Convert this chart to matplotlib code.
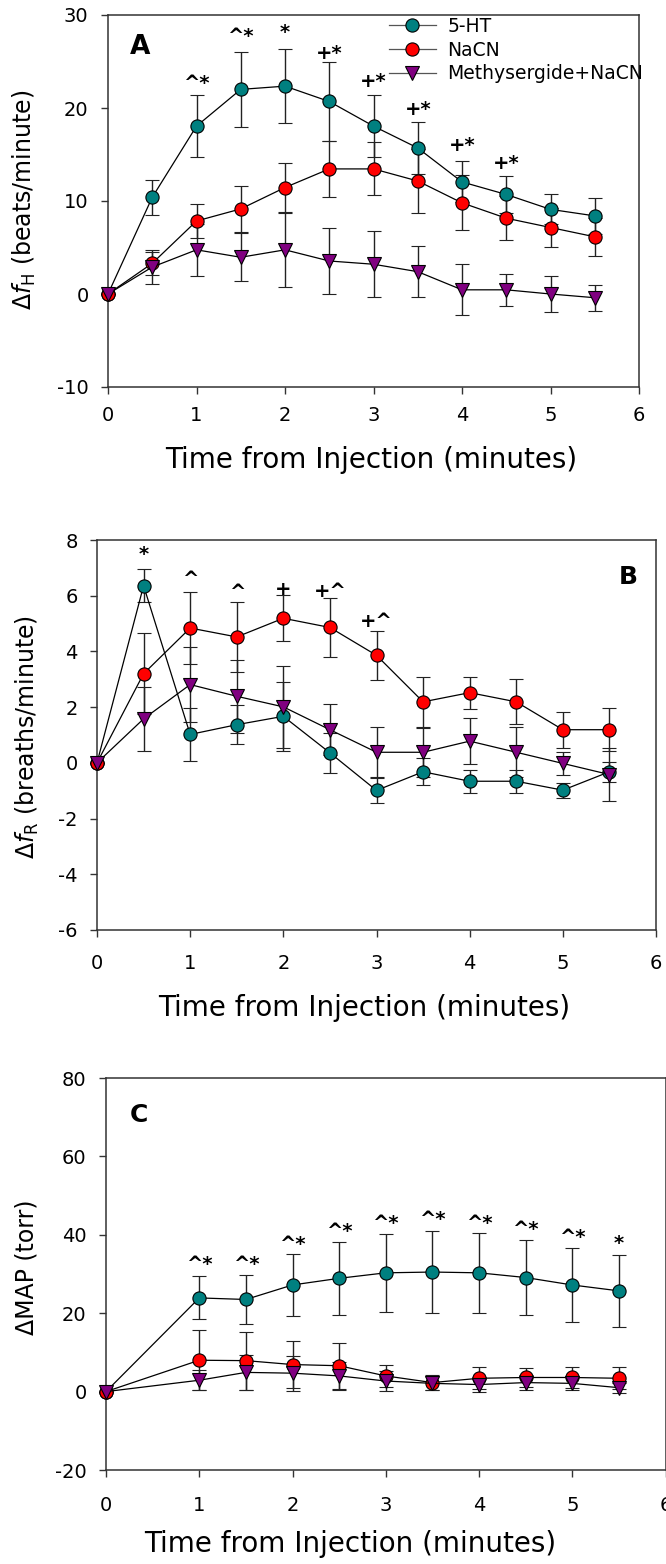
import numpy as np
import matplotlib
matplotlib.use('Agg')
from matplotlib import pyplot as plt

plt.rcParams['axes.unicode_minus'] = False
plt.rcParams['mathtext.fontset'] = 'dejavusans'

# time points (minutes)
tAB = [0, 0.5, 1, 1.5, 2, 2.5, 3, 3.5, 4, 4.5, 5, 5.5]
tC = [0, 1, 1.5, 2, 2.5, 3, 3.5, 4, 4.5, 5, 5.5]

labels = ['5-HT', 'NaCN', 'Methysergide+NaCN']

#Panel A - heart rate
hr_5ht = [0, 10.4, 18.05, 22.0, 22.35, 20.7, 18.05, 15.7, 12.05, 10.7, 9.1, 8.4]
hr_5ht_err = [0, 1.9, 3.3, 4.05, 4.0, 4.2, 3.35, 2.8, 2.2, 2.0, 1.6, 1.9]
hr_nacn = [0, 3.3, 7.85, 9.15, 11.45, 13.45, 13.45, 12.15, 9.8, 8.15, 7.15, 6.15]
hr_nacn_err = [0, 1.25, 1.85, 2.45, 2.6, 3.05, 2.85, 3.45, 2.95, 2.35, 2.05, 2.05]
hr_meth = [0, 2.9, 4.75, 3.95, 4.75, 3.55, 3.2, 2.4, 0.45, 0.45, 0, -0.4]
hr_meth_err = [0, 1.85, 2.8, 2.6, 4.0, 3.6, 3.55, 2.75, 2.75, 1.7, 1.9, 1.4]
hr_marks = ['', '', '^*', '^*', '*', '+*', '+*', '+*', '+*', '+*', '', '']
hr_mark_y = [0, 0, 22.65, 27.7, 28.1, 25.9, 22.8, 19.8, 16.0, 14.0, 0, 0]

#Panel B - respiratory rate
rr_5ht = [0, 6.36, 1.02, 1.37, 1.67, 0.36, -0.99, -0.32, -0.66, -0.66, -0.98, -0.32]
rr_5ht_err = [0, 0.6, 0.94, 0.69, 1.25, 0.72, 0.44, 0.48, 0.42, 0.42, 0.27, 0.35]
rr_nacn = [0, 3.2, 4.84, 4.52, 5.19, 4.86, 3.86, 2.19, 2.52, 2.19, 1.19, 1.19]
rr_nacn_err = [0, 1.45, 1.29, 1.27, 0.83, 1.05, 0.87, 0.9, 0.57, 0.81, 0.64, 0.77]
rr_meth = [0, 1.58, 2.81, 2.39, 2.01, 1.19, 0.38, 0.38, 0.78, 0.38, -0.02, -0.42]
rr_meth_err = [0, 1.14, 1.35, 1.31, 1.48, 0.92, 0.9, 0.87, 0.83, 0.9, 0.4, 0.95]
rr_marks = ['', '*', '^', '^', '+', '+^', '+^', '', '', '', '', '']
rr_mark_y = [0, 7.47, 6.6, 6.12, 6.21, 6.15, 5.08, 0, 0, 0, 0, 0]

#Panel C - mean arterial pressure
map_5ht = [0, 23.9, 23.5, 27.2, 28.9, 30.3, 30.5, 30.3, 29.1, 27.2, 25.7]
map_5ht_err = [0, 5.5, 6.2, 7.9, 9.3, 10.0, 10.5, 10.2, 9.5, 9.4, 9.2]
map_nacn = [0, 8.0, 7.9, 6.9, 6.6, 4.0, 2.3, 3.4, 3.6, 3.6, 3.4]
map_nacn_err = [0, 7.6, 7.4, 6.0, 5.9, 2.9, 1.9, 2.8, 2.5, 2.8, 2.8]
map_meth = [0, 2.9, 4.9, 4.7, 4.0, 2.7, 2.1, 1.8, 2.3, 2.1, 1.0]
map_meth_err = [0, 2.6, 4.5, 4.5, 3.5, 2.5, 1.8, 1.8, 2.0, 1.8, 1.3]
map_marks = ['', '^*', '^*', '^*', '^*', '^*', '^*', '^*', '^*', '^*', '*']
map_mark_y = [0, 32.4, 32.4, 37.5, 40.9, 43.0, 43.9, 43.0, 41.3, 39.4, 37.8]

colors = ['#008080', '#ff0000', '#800080']
markers = ['o', 'o', 'v']

W, H = 666, 1564
fig = plt.figure(figsize=(W/100, H/100), dpi=100)

def px_axes(left, right, top, bottom):
    return fig.add_axes([left/W, 1 - bottom/H, (right-left)/W, (bottom-top)/H])

def draw_panel(ax, t, series, errs, marks, mark_y):
    handles = []
    for y, e, c, m in zip(series, errs, colors, markers):
        cont = ax.errorbar(t, y, yerr=e, color='black', lw=0.9, marker=m, ms=9.5,
                           mfc=c, mec='black', mew=0.8, ecolor='#222222', elinewidth=1.0,
                           capsize=5, capthick=1.0, clip_on=False, zorder=3)
        for art in cont.lines[1] + cont.lines[2]:
            art.set_clip_on(False)
        handles.append(cont.lines[0])
    for xi, s, yi in zip(t, marks, mark_y):
        if s:
            ax.text(xi, yi, s, ha='center', va='center', fontsize=14, fontweight='bold')
    ax.set_xlim(0, 6)
    ax.set_xticks(range(7))
    for sp in ax.spines.values():
        sp.set_color('#333333')
        sp.set_linewidth(1.1)
    ax.tick_params(direction='out', length=5, width=1, labelsize=14, color='#333333')
    return handles

# A
axA = px_axes(108, 639, 15, 387)
hA = draw_panel(axA, tAB, [hr_5ht, hr_nacn, hr_meth], [hr_5ht_err, hr_nacn_err, hr_meth_err], hr_marks, hr_mark_y)
axA.set_ylim(-10, 30)
axA.set_yticks([-10, 0, 10, 20, 30])
axA.tick_params(axis='x', pad=9)
axA.tick_params(axis='y', pad=9)
axA.set_ylabel(r'$\mathit{Δf}_{\mathrm{H}}$ (beats/minute)', fontsize=17)
axA.yaxis.set_label_coords(-0.132, 0.503)
axA.set_xlabel('Time from Injection (minutes)', fontsize=20)
axA.xaxis.set_label_coords(0.495, -0.159)
axA.text(0.06, 0.914, 'A', transform=axA.transAxes, ha='center', va='center', fontsize=19, fontweight='bold')
leg = axA.legend(hA, labels, loc='upper left', bbox_to_anchor=(0.515, 1.015), frameon=False,
                 fontsize=13.5, handlelength=2.5, handletextpad=0.6, labelspacing=0.25, borderaxespad=0)
for ln in leg.get_lines():
    ln.set_color('#555555')

# B
axB = px_axes(97, 656, 540, 930)
draw_panel(axB, tAB, [rr_5ht, rr_nacn, rr_meth], [rr_5ht_err, rr_nacn_err, rr_meth_err], rr_marks, rr_mark_y)
axB.set_ylim(-6, 8)
axB.set_yticks([-6, -4, -2, 0, 2, 4, 6, 8])
axB.tick_params(axis='x', pad=12)
axB.tick_params(axis='y', pad=9)
axB.set_ylabel(r'$Δ\mathit{f}_{\mathrm{R}}$ (breaths/minute)', fontsize=17)
axB.yaxis.set_label_coords(-0.1, 0.495)
axB.set_xlabel('Time from Injection (minutes)', fontsize=20)
axB.xaxis.set_label_coords(0.478, -0.164)
axB.text(0.95, 0.905, 'B', transform=axB.transAxes, ha='center', va='center', fontsize=18, fontweight='bold')

# C
axC = px_axes(106, 665.5, 1078, 1470)
draw_panel(axC, tC, [map_5ht, map_nacn, map_meth], [map_5ht_err, map_nacn_err, map_meth_err], map_marks, map_mark_y)
axC.set_ylim(-20, 80)
axC.set_yticks([-20, 0, 20, 40, 60, 80])
axC.tick_params(axis='x', pad=14)
axC.tick_params(axis='y', pad=9)
axC.set_ylabel('ΔMAP (torr)', fontsize=17)
axC.yaxis.set_label_coords(-0.121, 0.518)
axC.set_xlabel('Time from Injection (minutes)', fontsize=20)
axC.xaxis.set_label_coords(0.436, -0.153)
axC.text(0.059, 0.906, 'C', transform=axC.transAxes, ha='center', va='center', fontsize=18, fontweight='bold')

fig.savefig('out.png', dpi=100)
